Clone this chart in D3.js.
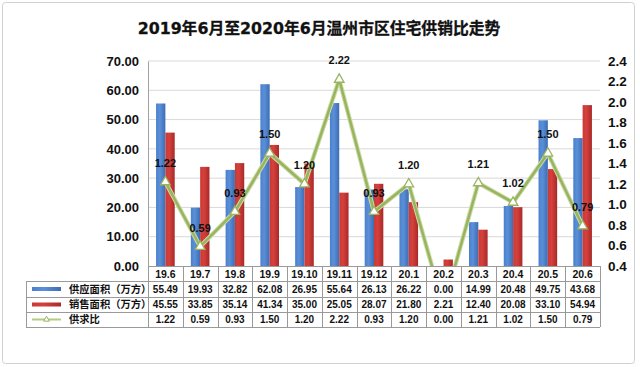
<!DOCTYPE html>
<html><head><meta charset="utf-8">
<script src="https://cdn.jsdelivr.net/npm/d3@7/dist/d3.min.js"></script>
<style>
html,body{margin:0;padding:0;background:#fff;}
svg{display:block;}
</style></head>
<body>
<svg id="chart" width="640" height="367"></svg>
<script>
const title = "2019年6月至2020年6月温州市区住宅供销比走势";
const categories = ["19.6","19.7","19.8","19.9","19.10","19.11","19.12","20.1","20.2","20.3","20.4","20.5","20.6"];
const supply = [55.49,19.93,32.82,62.08,26.95,55.64,26.13,26.22,0.00,14.99,20.48,49.75,43.68];
const sales  = [45.55,33.85,35.14,41.34,35.00,25.05,28.07,21.80,2.21,12.40,20.08,33.10,54.94];
const ratio  = [1.22,0.59,0.93,1.50,1.20,2.22,0.93,1.20,0.00,1.21,1.02,1.50,0.79];
const seriesNames = ["供应面积（万方）","销售面积（万方）","供求比"];
const leftTicks = [0,10,20,30,40,50,60,70];
const rightTicks = [0.4,0.6,0.8,1.0,1.2,1.4,1.6,1.8,2.0,2.2,2.4];

const svg = d3.select("#chart");
const L = 148, R = 600, T = 61, B = 266;
const numFont = "'Liberation Sans', Arial, sans-serif";
const cjkFont = "'Noto Sans CJK SC', sans-serif";
const titleFont = "'DejaVu Sans', 'Noto Sans CJK SC', sans-serif";

svg.append("rect").attr("x",2.5).attr("y",2.5).attr("width",632).attr("height",361)
  .attr("rx",3).attr("fill","#fff").attr("stroke","#d0d0d0");

svg.append("text").attr("x",319).attr("y",34).attr("text-anchor","middle")
  .attr("font-family",titleFont).attr("font-weight","bold").attr("font-size",15.8)
  .attr("fill","#111").attr("stroke","#111").attr("stroke-width",0.3).text(title);

const x = d3.scaleBand().domain(categories).range([L,R]).padding(0);
const yL = d3.scaleLinear().domain([0,70]).range([B,T]);
const yR = d3.scaleLinear().domain([0.4,2.4]).range([B,T]);

const defs = svg.append("defs");
function grad(id, stops){
  const g = defs.append("linearGradient").attr("id",id).attr("x1","0").attr("x2","1").attr("y1","0").attr("y2","0");
  stops.forEach(s=>g.append("stop").attr("offset",s[0]).attr("stop-color",s[1]));
}
grad("gBlue",[[0,"#4a7fcc"],[0.4,"#5b90d8"],[1,"#3d6db5"]]);
grad("gRed",[[0,"#c83a36"],[0.4,"#d6403c"],[1,"#a82a28"]]);
defs.append("clipPath").attr("id","plotClip").append("rect")
  .attr("x",L).attr("y",T-30).attr("width",R-L).attr("height",B-T+30);

svg.append("g").selectAll("line").data(leftTicks.filter(d=>d>0)).join("line")
  .attr("x1",L).attr("x2",R).attr("y1",d=>yL(d)).attr("y2",d=>yL(d))
  .attr("stroke","#d9d9d9").attr("stroke-width",1);

const axL = svg.append("g").attr("transform",`translate(${L},0)`)
  .call(d3.axisLeft(yL).tickValues(leftTicks).tickFormat(d3.format(".2f")).tickSize(0).tickPadding(9));
axL.select(".domain").attr("stroke","#a0a0a0");
axL.selectAll("text").attr("font-family",numFont).attr("font-weight","bold").attr("font-size",13).attr("fill","#111");

const axR = svg.append("g").attr("transform",`translate(${R},0)`)
  .call(d3.axisRight(yR).tickValues(rightTicks).tickFormat(d3.format(".1f")).tickSize(0).tickPadding(8));
axR.select(".domain").remove();
axR.selectAll("text").attr("font-family",numFont).attr("font-weight","bold").attr("font-size",13.5).attr("fill","#111");

const bw = x.bandwidth()*0.268;
svg.append("g").selectAll("rect").data(categories).join("rect")
  .attr("x",d=>x(d)+x.bandwidth()/2-bw).attr("width",bw)
  .attr("y",(d,i)=>yL(supply[i])).attr("height",(d,i)=>B-yL(supply[i]))
  .attr("fill","url(#gBlue)");
svg.append("g").selectAll("rect").data(categories).join("rect")
  .attr("x",d=>x(d)+x.bandwidth()/2).attr("width",bw)
  .attr("y",(d,i)=>yL(sales[i])).attr("height",(d,i)=>B-yL(sales[i]))
  .attr("fill","url(#gRed)");

const lineG = svg.append("g").attr("clip-path","url(#plotClip)");
const line = d3.line().x((d,i)=>x(categories[i])+x.bandwidth()/2).y(d=>yR(d));
lineG.append("path").datum(ratio).attr("d",line).attr("fill","none")
  .attr("stroke","#cddca8").attr("stroke-width",4.5).attr("stroke-linejoin","round");
lineG.append("path").datum(ratio).attr("d",line).attr("fill","none")
  .attr("stroke","#98b45e").attr("stroke-width",2.5).attr("stroke-linejoin","round");
const tri = d3.symbol().type(d3.symbolTriangle).size(40);
const visible = ratio.map((v,i)=>({v,i})).filter(d=>d.v>=0.4);
lineG.selectAll("path.m").data(visible).join("path").attr("class","m")
  .attr("d",tri).attr("transform",d=>`translate(${x(categories[d.i])+x.bandwidth()/2},${yR(d.v)})`)
  .attr("fill","#fff").attr("stroke","#98b45e").attr("stroke-width",1.3);
svg.append("g").selectAll("text").data(visible).join("text")
  .attr("x",d=>x(categories[d.i])+x.bandwidth()/2).attr("y",d=>yR(d.v)-15)
  .attr("text-anchor","middle").attr("font-family",numFont).attr("font-weight","bold")
  .attr("font-size",11).attr("fill","#111").text(d=>d.v.toFixed(2));

const rowsY = [266,281,297,312,327];
const tL = 26;
const tg = svg.append("g");
const stroke = "#9a9a9a";
tg.append("line").attr("x1",L).attr("x2",R).attr("y1",rowsY[0]+0.5).attr("y2",rowsY[0]+0.5).attr("stroke",stroke);
rowsY.slice(1).forEach(y=>tg.append("line").attr("x1",tL).attr("x2",R).attr("y1",y+0.5).attr("y2",y+0.5).attr("stroke",stroke));
categories.forEach(c=>tg.append("line").attr("x1",Math.round(x(c))+0.5).attr("x2",Math.round(x(c))+0.5)
  .attr("y1",rowsY[0]).attr("y2",rowsY[4]).attr("stroke",stroke));
tg.append("line").attr("x1",R+0.5).attr("x2",R+0.5).attr("y1",rowsY[0]).attr("y2",rowsY[4]).attr("stroke",stroke);
tg.append("line").attr("x1",tL+0.5).attr("x2",tL+0.5).attr("y1",rowsY[1]).attr("y2",rowsY[4]).attr("stroke",stroke);

tg.selectAll("text.cat").data(categories).join("text").attr("class","cat")
  .attr("x",d=>x(d)+x.bandwidth()/2).attr("y",(rowsY[0]+rowsY[1])/2+4)
  .attr("text-anchor","middle").attr("font-family",numFont).attr("font-weight","bold")
  .attr("font-size",10.5).attr("fill","#111").text(d=>d);
const tableRows = [supply,sales,ratio];
tableRows.forEach((arr,r)=>{
  tg.selectAll("text.r"+r).data(arr).join("text").attr("class","r"+r)
    .attr("x",(d,i)=>x(categories[i])+x.bandwidth()/2).attr("y",(rowsY[r+1]+rowsY[r+2])/2+3.8)
    .attr("text-anchor","middle").attr("font-family",numFont).attr("font-weight","bold")
    .attr("font-size",10).attr("fill","#111").text(d=>d.toFixed(2));
});
const keyX = 32, keyW = 29;
tg.append("rect").attr("x",keyX).attr("y",(rowsY[1]+rowsY[2])/2-2).attr("width",keyW).attr("height",4).attr("fill","url(#gBlue)");
tg.append("rect").attr("x",keyX).attr("y",(rowsY[2]+rowsY[3])/2-2).attr("width",keyW).attr("height",4).attr("fill","url(#gRed)");
const ly = (rowsY[3]+rowsY[4])/2;
tg.append("line").attr("x1",keyX).attr("x2",keyX+keyW).attr("y1",ly).attr("y2",ly).attr("stroke","#b5cc80").attr("stroke-width",2);
tg.append("path").attr("d",d3.symbol().type(d3.symbolTriangle).size(14)).attr("transform",`translate(${keyX+keyW/2},${ly})`)
  .attr("fill","#fff").attr("stroke","#98b45e").attr("stroke-width",1);
seriesNames.forEach((n,r)=>{
  tg.append("text").attr("x",69).attr("y",(rowsY[r+1]+rowsY[r+2])/2+3.8)
    .attr("font-family",cjkFont).attr("font-weight","bold").attr("font-size",10.3).attr("fill","#111").text(n);
});
</script>
</body></html>
